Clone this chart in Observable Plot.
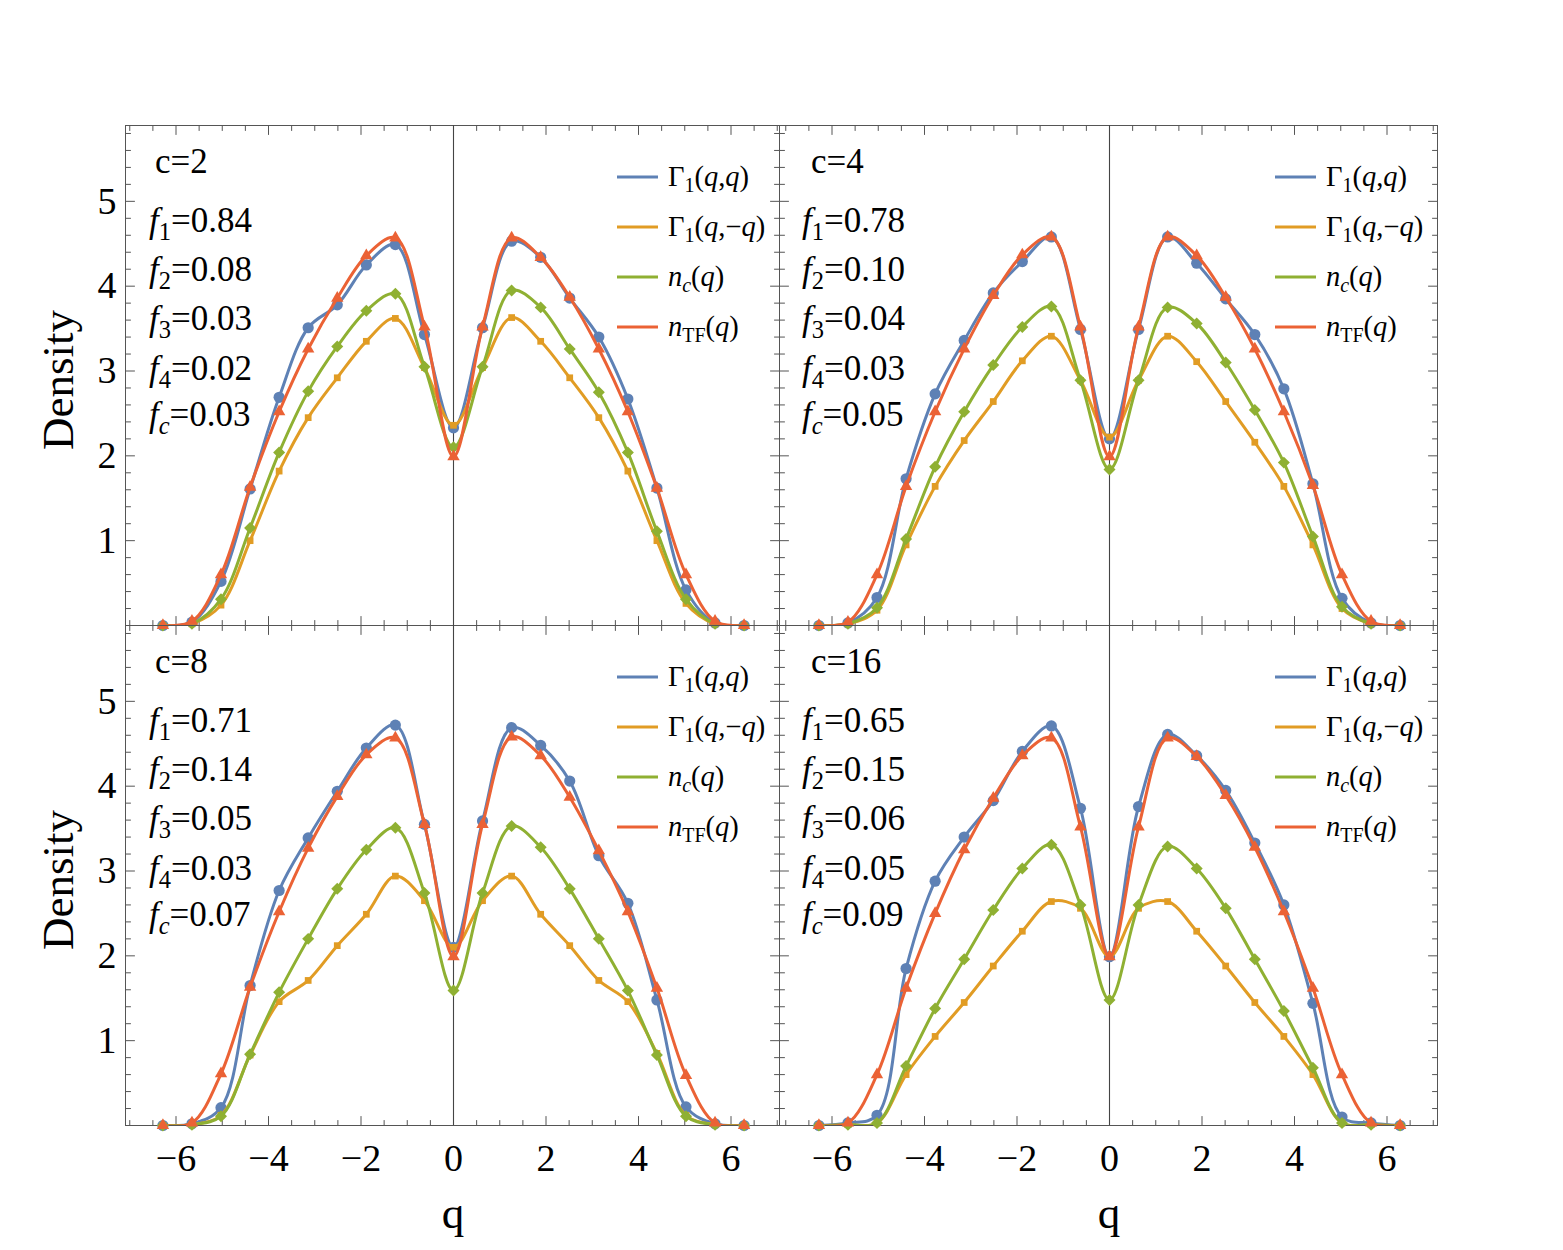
<!DOCTYPE html>
<html>
<head>
<meta charset="utf-8">
<script src="https://cdn.jsdelivr.net/npm/d3@7"></script>
<script src="https://cdn.jsdelivr.net/npm/@observablehq/plot@0.6"></script>
<style>
  body { margin: 0; background: #fff; }
  #wrap { position: relative; width: 1563px; height: 1250px; background: #fff; overflow: hidden; }
  #wrap > div.panel { position: absolute; }
  #wrap svg { max-width: none; }
</style>
</head>
<body>
<div id="wrap"></div>
<script>
// ---------------- data ----------------
// sample grid: q = k*pi/5, k = -10..10
const qValues = [-6.283, -5.655, -5.027, -4.398, -3.770, -3.142, -2.513, -1.885, -1.257, -0.628, 0,
                 0.628, 1.257, 1.885, 2.513, 3.142, 3.770, 4.398, 5.027, 5.655, 6.283];

const couplings = [2, 4, 8, 16];
const f1 = [0.84, 0.78, 0.71, 0.65];
const f2 = [0.08, 0.10, 0.14, 0.15];
const f3 = [0.03, 0.04, 0.05, 0.06];
const f4 = [0.02, 0.03, 0.03, 0.05];
const fc = [0.03, 0.05, 0.07, 0.09];

const xTicks = [-6, -4, -2, 0, 2, 4, 6];
const yTicks = [1, 2, 3, 4, 5];

// c = 2
const gammaQQ_c2  = [0, 0.04, 0.52, 1.61, 2.69, 3.51, 3.78, 4.25, 4.49, 3.43, 2.33, 3.51, 4.53, 4.34, 3.86, 3.40, 2.67, 1.62, 0.42, 0.03, 0];
const gammaQmQ_c2 = [0, 0.02, 0.24, 1.00, 1.82, 2.45, 2.92, 3.35, 3.62, 3.04, 2.36, 3.04, 3.63, 3.35, 2.92, 2.45, 1.82, 1.00, 0.26, 0.02, 0];
const nc_c2       = [0, 0.02, 0.31, 1.15, 2.04, 2.76, 3.29, 3.71, 3.91, 3.05, 2.10, 3.05, 3.95, 3.75, 3.26, 2.75, 2.04, 1.11, 0.31, 0.02, 0];
const nTF_c2      = [0, 0.05, 0.60, 1.63, 2.52, 3.26, 3.86, 4.36, 4.57, 3.52, 1.99, 3.52, 4.57, 4.34, 3.87, 3.26, 2.52, 1.62, 0.60, 0.05, 0];
// c = 4
const gammaQQ_c4  = [0, 0.03, 0.33, 1.73, 2.73, 3.36, 3.92, 4.29, 4.58, 3.49, 2.20, 3.49, 4.58, 4.27, 3.85, 3.43, 2.79, 1.67, 0.32, 0.03, 0];
const gammaQmQ_c4 = [0, 0.02, 0.18, 0.95, 1.64, 2.18, 2.64, 3.12, 3.41, 2.89, 2.22, 2.89, 3.41, 3.11, 2.64, 2.16, 1.64, 0.95, 0.20, 0.02, 0];
const nc_c4       = [0, 0.02, 0.21, 1.02, 1.87, 2.52, 3.07, 3.52, 3.76, 2.89, 1.84, 2.89, 3.75, 3.56, 3.10, 2.54, 1.92, 1.05, 0.22, 0.02, 0];
const nTF_c4      = [0, 0.04, 0.60, 1.64, 2.52, 3.26, 3.89, 4.37, 4.58, 3.52, 1.99, 3.52, 4.58, 4.36, 3.87, 3.26, 2.52, 1.65, 0.60, 0.05, 0];
// c = 8
const gammaQQ_c8  = [0, 0.02, 0.21, 1.65, 2.77, 3.39, 3.94, 4.45, 4.72, 3.55, 2.10, 3.59, 4.69, 4.48, 4.06, 3.18, 2.62, 1.48, 0.22, 0.02, 0];
const gammaQmQ_c8 = [0, 0.01, 0.12, 0.83, 1.46, 1.71, 2.12, 2.49, 2.94, 2.65, 2.10, 2.65, 2.94, 2.49, 2.12, 1.71, 1.46, 0.85, 0.12, 0.01, 0];
const nc_c8       = [0, 0.01, 0.11, 0.84, 1.57, 2.20, 2.79, 3.25, 3.51, 2.74, 1.59, 2.74, 3.53, 3.28, 2.79, 2.20, 1.59, 0.83, 0.11, 0.01, 0];
const nTF_c8      = [0, 0.03, 0.61, 1.63, 2.52, 3.27, 3.88, 4.37, 4.57, 3.55, 1.99, 3.55, 4.58, 4.36, 3.87, 3.24, 2.52, 1.62, 0.59, 0.03, 0];
// c = 16
const gammaQQ_c16  = [0, 0.03, 0.12, 1.85, 2.88, 3.40, 3.83, 4.41, 4.71, 3.74, 1.99, 3.76, 4.61, 4.36, 3.95, 3.33, 2.60, 1.44, 0.10, 0.03, 0];
const gammaQmQ_c16 = [0, 0.01, 0.03, 0.60, 1.05, 1.45, 1.88, 2.29, 2.64, 2.56, 1.99, 2.56, 2.64, 2.29, 1.88, 1.45, 1.05, 0.60, 0.03, 0.01, 0];
const nc_c16       = [0, 0.01, 0.03, 0.70, 1.38, 1.96, 2.54, 3.03, 3.31, 2.60, 1.48, 2.60, 3.29, 3.03, 2.56, 1.96, 1.35, 0.68, 0.03, 0.01, 0];
const nTF_c16      = [0, 0.03, 0.60, 1.62, 2.50, 3.25, 3.86, 4.36, 4.57, 3.52, 1.99, 3.52, 4.57, 4.35, 3.89, 3.28, 2.52, 1.62, 0.60, 0.03, 0];

const seriesNames = ["Γ1(q,q)", "Γ1(q,-q)", "nc(q)", "nTF(q)"];
const seriesColors = ["#5E81B5", "#E19C24", "#8FB032", "#EB6235"];
const seriesSymbols = ["circle", "square", "diamond2", "triangle"];
const seriesRadius = [5.6, 3.8, 5.4, 4.6];

const panelSeries = [
  [gammaQQ_c2, gammaQmQ_c2, nc_c2, nTF_c2],
  [gammaQQ_c4, gammaQmQ_c4, nc_c4, nTF_c4],
  [gammaQQ_c8, gammaQmQ_c8, nc_c8, nTF_c8],
  [gammaQQ_c16, gammaQmQ_c16, nc_c16, nTF_c16]
];

// ---------------- layout ----------------
const FONT = "Liberation Serif, Times New Roman, serif";
const wrap = document.getElementById("wrap");
const PX_PER_Q = 46.25;
const Y_MAX = 5.894;

const xMinor = d3.range(-7, 7.01, 0.5);
const yMinor = d3.range(0, 5.81, 0.2).map(v => +v.toFixed(2));
const tickShape = { draw(ctx, l) { ctx.moveTo(0, 0); ctx.lineTo(0, -l); } };

function frameTicks(values, dir, len) {
  const o = { shape: tickShape, length: len, anchor: "start", stroke: "#555", strokeWidth: 1 };
  if (dir === "bottom") return Plot.vector(values, { ...o, x: d => d, frameAnchor: "bottom", rotate: 0 });
  if (dir === "top") return Plot.vector(values, { ...o, x: d => d, frameAnchor: "top", rotate: 180 });
  if (dir === "left") return Plot.vector(values, { ...o, y: d => d, frameAnchor: "left", rotate: 90 });
  return Plot.vector(values, { ...o, y: d => d, frameAnchor: "right", rotate: -90 });
}

const panelGeom = [
  { col: 0, row: 0 }, { col: 1, row: 0 }, { col: 0, row: 1 }, { col: 1, row: 1 }
];

panelGeom.forEach((g, i) => {
  const pl = g.col === 0 ? 125 : 779;
  const pr = g.col === 0 ? 779 : 1437;
  const pt = g.row === 0 ? 125 : 625;
  const zero = g.col === 0 ? 453 : 1109;
  const xDomain = [(pl - zero) / PX_PER_Q, (pr - zero) / PX_PER_Q];
  const showX = g.row === 1, showY = g.col === 0;
  const ml = showY ? 125 : 12, mr = 12, mt = 12, mb = showX ? 100 : 12;

  const rows = [];
  panelSeries[i].forEach((vals, s) => vals.forEach((v, j) => rows.push({ q: qValues[j], v, s })));

  const minorX = xMinor.filter(v => v % 2 !== 0);
  const minorY = yMinor.filter(v => Math.abs(v - Math.round(v)) > 0.01);
  const marks = [
    Plot.frame({ stroke: "#555", strokeWidth: 1 }),
    frameTicks(xTicks, "bottom", 9), frameTicks(minorX, "bottom", 5),
    frameTicks(xTicks, "top", 9), frameTicks(minorX, "top", 5),
    frameTicks(yTicks, "left", 9), frameTicks(minorY, "left", 5),
    frameTicks(yTicks, "right", 9), frameTicks(minorY, "right", 5),
    Plot.ruleX([0], { stroke: "#444", strokeWidth: 1.1 })
  ];
  if (showX) marks.push(Plot.axisX(xTicks, { tickSize: 0, tickPadding: 19, fontSize: 38, fontFamily: FONT, fill: "#000", label: null, tickFormat: d3.format("d") }));
  if (showY) marks.push(Plot.axisY(yTicks, { tickSize: 0, tickPadding: 9, fontSize: 38, fontFamily: FONT, fill: "#000", label: null, tickFormat: d3.format("d") }));
  for (let s = 0; s < 4; s++) {
    const d = rows.filter(r => r.s === s);
    marks.push(Plot.line(d, { x: "q", y: "v", stroke: seriesColors[s], strokeWidth: 3, curve: "catmull-rom", clip: true }));
    marks.push(Plot.dot(d, { x: "q", y: "v", symbol: seriesSymbols[s], r: seriesRadius[s], fill: seriesColors[s], stroke: "none" }));
  }

  const chart = Plot.plot({
    width: (pr - pl) + ml + mr,
    height: 500 + mt + mb,
    marginLeft: ml, marginRight: mr, marginTop: mt, marginBottom: mb,
    x: { domain: xDomain, ...(showX ? {} : { axis: null }) },
    y: { domain: [0, Y_MAX], ...(showY ? {} : { axis: null }) },
    style: { background: "transparent", overflow: "visible", fontFamily: FONT, color: "#000" },
    marks
  });
  const div = document.createElement("div");
  div.className = "panel";
  div.style.left = (pl - ml) + "px";
  div.style.top = (pt - mt) + "px";
  div.appendChild(chart);
  wrap.appendChild(div);
});

// ---------------- text overlay ----------------
const ov = d3.select(wrap).append("svg")
  .attr("width", 1563).attr("height", 1250)
  .style("position", "absolute").style("left", 0).style("top", 0)
  .style("pointer-events", "none")
  .attr("font-family", FONT).attr("fill", "#000");

function rich(x, y, parts, size, anchor = "start") {
  const t = ov.append("text").attr("x", x).attr("y", y).attr("font-size", size).attr("text-anchor", anchor);
  let shifted = 0;
  parts.forEach(p => {
    const sp = t.append("tspan").text(p.t);
    if (p.i) sp.attr("font-style", "italic");
    const want = p.sub ? Math.round(size * 0.22) : 0;
    if (want !== shifted) { sp.attr("dy", want - shifted); shifted = want; }
    if (p.sub) sp.attr("font-size", size * 0.7);
  });
  return t;
}

function legendParts(s) {
  if (s === 0) return [{ t: "Γ" }, { t: "1", sub: true }, { t: "(" }, { t: "q", i: true }, { t: "," }, { t: "q", i: true }, { t: ")" }];
  if (s === 1) return [{ t: "Γ" }, { t: "1", sub: true }, { t: "(" }, { t: "q", i: true }, { t: ",−" }, { t: "q", i: true }, { t: ")" }];
  if (s === 2) return [{ t: "n", i: true }, { t: "c", i: true, sub: true }, { t: "(" }, { t: "q", i: true }, { t: ")" }];
  return [{ t: "n", i: true }, { t: "TF", sub: true }, { t: "(" }, { t: "q", i: true }, { t: ")" }];
}

panelGeom.forEach((g, i) => {
  const pl = g.col === 0 ? 125 : 779;
  const pr = g.col === 0 ? 779 : 1437;
  const pt = g.row === 0 ? 125 : 625;
  const tx = g.col === 0 ? pl + 30 : pl + 32;
  const fx = g.col === 0 ? pl + 24 : pl + 23;
  rich(tx, pt + 48, [{ t: "c=" + couplings[i] }], 35);
  const fvals = [f1[i], f2[i], f3[i], f4[i], fc[i]];
  const fsubs = ["1", "2", "3", "4", "c"];
  const fy = [107, 156, 205, 255, 301];
  fvals.forEach((v, k) => {
    rich(fx, pt + fy[k], [{ t: "f", i: true }, { t: fsubs[k], sub: true, i: fsubs[k] === "c" }, { t: "=" + v.toFixed(2) }], 35);
  });
  for (let s = 0; s < 4; s++) {
    const cy = pt + 52 + 50 * s;
    ov.append("line").attr("x1", pr - 162).attr("x2", pr - 121).attr("y1", cy).attr("y2", cy)
      .attr("stroke", seriesColors[s]).attr("stroke-width", 3);
    rich(pr - 111, cy + 9, legendParts(s), 28.5);
  }
});

// axis titles
[380, 880].forEach(cy => {
  ov.append("text").attr("transform", `translate(73,${cy}) rotate(-90)`).attr("text-anchor", "middle")
    .attr("font-size", 45).text("Density");
});
[453, 1109].forEach(cx => {
  ov.append("text").attr("x", cx).attr("y", 1228).attr("text-anchor", "middle").attr("font-size", 45).text("q");
});
</script>
</body>
</html>
